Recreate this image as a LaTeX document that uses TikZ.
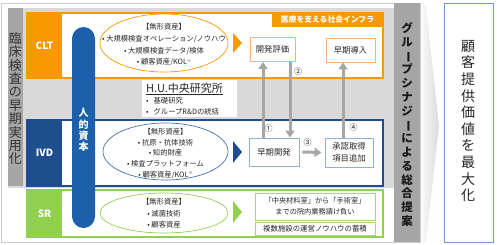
\documentclass[tikz,border=0pt]{standalone}
\usepackage{fontspec}
\setmainfont{Noto Sans CJK JP}
\usepackage{graphicx}
\usetikzlibrary{arrows.meta,shapes.geometric}
\definecolor{org}{RGB}{247,153,0}
\definecolor{orgl}{RGB}{244,177,131}
\definecolor{ivdb}{RGB}{30,78,140}
\definecolor{ivdl}{RGB}{143,176,219}
\definecolor{ivde}{RGB}{70,114,180}
\definecolor{grn}{RGB}{146,208,80}
\definecolor{grnl}{RGB}{169,209,142}
\definecolor{hcb}{RGB}{28,95,170}
\definecolor{pnl}{RGB}{217,217,217}
\definecolor{stripc}{RGB}{166,166,166}
\definecolor{arr}{RGB}{166,166,166}
\definecolor{rbox}{RGB}{110,155,210}
\definecolor{txt}{RGB}{38,38,38}
\newcommand{\vbarchar}{\rotatebox[origin=c]{-90}{ー}}
\newcommand{\kome}{\raisebox{2.5pt}{\fontsize{4}{4}\selectfont ※}}
\tikzset{
  bandlbl/.style={text=white, font=\bfseries\fontsize{10}{11}\selectfont, inner sep=0},
  stepbox/.style={fill=white, line width=0.9pt, inner sep=0, font=\fontsize{8.3}{11}\selectfont},
  elltext/.style={align=center, inner sep=0},
  ell/.style={ellipse, line width=0.7pt, inner sep=0},
  garrow/.style={draw=arr, line width=3pt, -{Triangle[length=7pt,width=9pt]}},
  numlbl/.style={font=\fontsize{8}{9}\selectfont, inner sep=0},
}
\begin{document}
\begin{tikzpicture}[x=1pt,y=-1pt, font=\fontsize{7.3}{11}\selectfont, text=txt]
\useasboundingbox (0,0) rectangle (497,244);
% outer frame and panel
\draw[draw=gray!40, fill=white, line width=0.8pt] (1,3) rectangle (420,242);
\fill[pnl] (8,8) rectangle (394,188);
\fill[stripc] (8,8) rectangle (23,186);
\node[font=\fontsize{13}{13.4}\selectfont, align=center, inner sep=0, text=black!80] (lcol) at (15.5,98.7) {臨\\床\\検\\査\\の\\早\\期\\実\\用\\化};
% CLT band
\draw[org, line width=1.3pt, fill=white] (27,13) rectangle (383,78);
\fill[org] (27,13) rectangle (62,78);
\node[bandlbl] (clt) at (44.5,45.5) {CLT};
\fill[org] (272,13) rectangle (383,27);
\node[font=\bfseries\fontsize{7.8}{8}\selectfont, text=white, inner sep=0] (infra) at (327.5,20) {医療を支える社会インフラ};
% IVD band
\draw[ivdb, line width=1.3pt, fill=white] (27,120) rectangle (383,186);
\fill[ivdb] (27,120) rectangle (62,186);
\node[bandlbl] (ivd) at (44.5,153) {IVD};
% SR band
\draw[grn, line width=1.3pt, fill=white] (27,190) rectangle (383,237);
\fill[grn] (27,190) rectangle (62,237);
\node[bandlbl] (sr) at (44.5,213.5) {SR};
% H.U. box
\fill[white] (142,80) rectangle (237,117);
\node[anchor=west, font=\fontsize{11}{12}\selectfont, inner sep=0] (hu) at (146,89) {\underline{H.U.中央研究所}};
\node[anchor=west, inner sep=0] (hu1) at (146,100.5) {•\hspace{5pt}基礎研究};
\node[anchor=west, inner sep=0] (hu2) at (146,112) {•\hspace{5pt}グループR\&Dの統括};
% ellipses
\node[ell, draw=org, minimum width=128, minimum height=58] (e1) at (164,43) {};
\node[elltext, font=\fontsize{7.3}{11.6}\selectfont] (t1) at (164,44.8) {【無形資産】\\• 大規模検査オペレーション/ノウハウ\\• 大規模検査データ/検体\\• 顧客資産/KOL\kome};
\node[ell, draw=ivde, minimum width=125, minimum height=57] (e2) at (165.5,151.5) {};
\node[elltext, font=\fontsize{7.3}{10.7}\selectfont] (t2) at (165.5,153.5) {【無形資産】\\• 抗原・抗体技術\\• 知的財産\\• 検査プラットフォーム\\• 顧客資産/KOL\kome};
\node[ell, draw=grn, minimum width=128, minimum height=40] (e3) at (164,213) {};
\node[elltext, font=\fontsize{7.3}{11.5}\selectfont] (t3) at (164,213.5) {【無形資産】\\• 滅菌技術\\• 顧客資産};
% human capital bar
\node[fill=hcb, rounded corners=11.5pt, minimum width=23, minimum height=201, inner sep=0] (hc) at (83.5,127.5) {};
\node[text=white, font=\bfseries\fontsize{10}{11.4}\selectfont, align=center, inner sep=0] (hct) at (83.5,130) {人\\的\\資\\本};
% triangles
\fill[org] (233,33) -- (242,43) -- (233,53) -- cycle;
\fill[ivdb] (233,141) -- (242,152) -- (233,163) -- cycle;
\fill[grn] (233,201) -- (242,212) -- (233,223) -- cycle;
% step boxes
\node[stepbox, draw=orgl, minimum width=45, minimum height=24] (de) at (272.5,49.5) {開発評価};
\node[stepbox, draw=orgl, minimum width=49, minimum height=24] (ei) at (350.5,50) {早期導入};
\node[stepbox, draw=ivdl, minimum width=50, minimum height=28] (ed) at (274,152) {早期開発};
\node[stepbox, draw=ivdl, minimum width=48, minimum height=29, align=center, font=\fontsize{8.3}{12}\selectfont] (ap) at (349,152.5) {承認取得\\項目追加};
\node[stepbox, draw=grnl, minimum width=120, minimum height=27, align=center, font=\fontsize{7.2}{11}\selectfont] (s1) at (315,206.5) {「中央材料室」から「手術室」\\までの院内業務請け負い};
\node[stepbox, draw=grnl, minimum width=120, minimum height=13, font=\fontsize{7.4}{9}\selectfont] (s2) at (315,228.5) {複数施設の運営ノウハウの蓄積};
% arrows
\draw[garrow] ([xshift=-11pt]ed.north) -- ([xshift=-11pt]ed.north |- de.south);
\draw[garrow] ([xshift=16pt]ed.north |- de.south) -- ([xshift=16pt]ed.north);
\draw[garrow] ([xshift=3pt]ed.east) -- ([xshift=-3pt]ap.west);
\draw[garrow] ([xshift=-6pt]ap.north) -- ([xshift=-6pt]ap.north |- ei.south);
\node[numlbl] (n1) at (268.5,128) {①};
\node[numlbl] (n2) at (298,71.5) {②};
\node[numlbl] (n3) at (307.5,142) {③};
\node[numlbl] (n4) at (353.5,127) {④};
% synergy column
\fill[stripc] (394,3) rectangle (420,242);
\node[font=\bfseries\fontsize{11.5}{13.8}\selectfont, align=center, inner sep=0, text=black!90] (syn) at (407,124.3) {グ\\ル\\\vbarchar\\プ\\シ\\ナ\\ジ\\\vbarchar\\に\\よ\\る\\総\\合\\提\\案};
% chevron
\shade[left color=gray!6, right color=gray!28] (422,6) -- (426,6) -- (439,126) -- (426,242) -- (422,242) -- cycle;
% right box
\draw[rbox, line width=0.9pt, fill=white] (444,3) rectangle (493,242);
\node[font=\fontsize{14}{16.6}\selectfont, align=center, inner sep=0, text=black!85] (val) at (468,121) {顧\\客\\提\\供\\価\\値\\を\\最\\大\\化};
\end{tikzpicture}
\end{document}
